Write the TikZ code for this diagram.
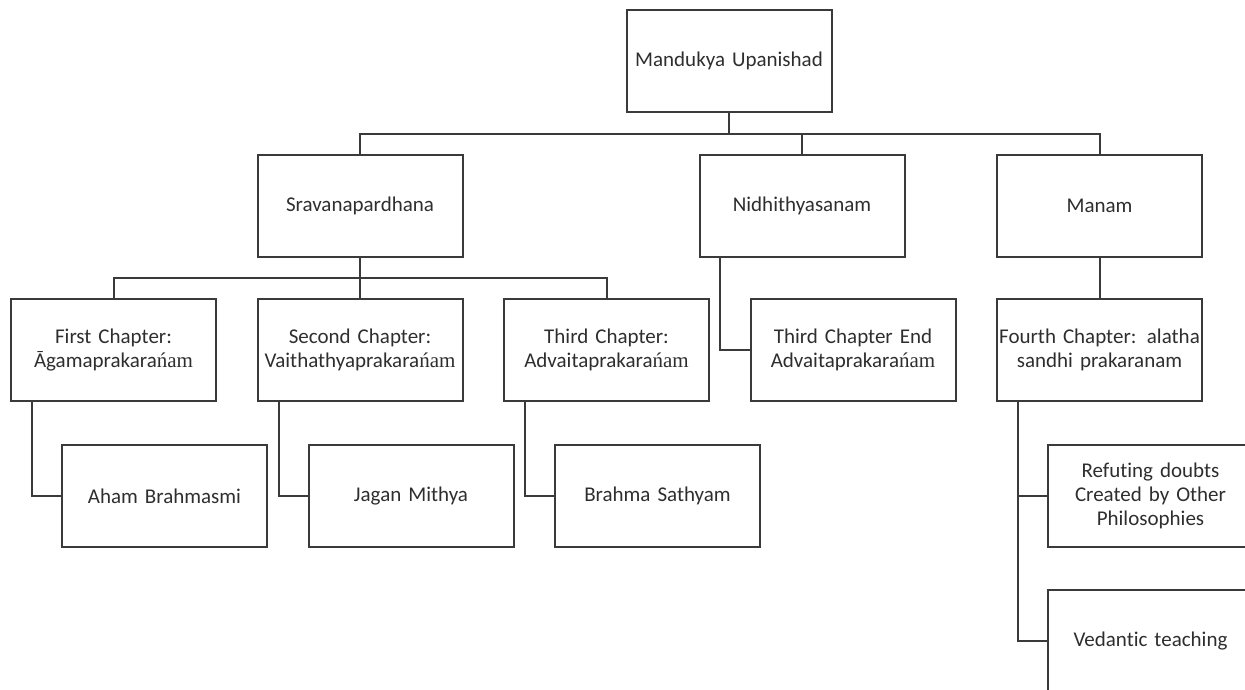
\documentclass[tikz,border=0pt]{standalone}
\usepackage{fontspec}
\setmainfont{Carlito}[Ligatures=NoCommon]
\newfontfamily\tailfont{Liberation Serif}
\usepackage{xcolor}
\usepackage{tikz}
\usetikzlibrary{positioning,calc}

\definecolor{boxline}{HTML}{3A3A3A}
\definecolor{boxtext}{HTML}{2E2E2E}

\begin{document}
\begin{tikzpicture}[node distance=41.5pt,
  box/.style={draw=boxline, line width=2pt, text=boxtext, text width=205pt,
    minimum height=102pt, inner sep=0pt, outer sep=0pt, align=center,
    font=\fontsize{21}{24}\selectfont},
  link/.style={draw=boxline, line width=2pt}]
  \useasboundingbox (0,0) rectangle (1245pt,-689pt);

  \node[box] at (113.5pt,-350pt)                  (first)
  {First Chapter:\\Āgamaprakara{\tailfont ńam}};
  \node[box, right=of first]                       (second)
  {Second Chapter:\\Vaithathyaprakara{\tailfont ńam}};
  \node[box, right=of second]                      (third)
  {Third Chapter:\\Advaitaprakara{\tailfont ńam}};
  \node[box, right=of third]                       (thirdend)
  {Third Chapter End\\Advaitaprakara{\tailfont ńam}};
  \node[box, right=of thirdend]                    (fourth)
  {Fourth Chapter: alatha\\sandhi prakaranam};

  \node[box, above=42pt of second]                 (sravana)
  {Sravanapardhana};
  \node[box, above=42pt of thirdend, xshift=-51pt] (nidhi)
  {Nidhithyasanam};
  \node[box, above=42pt of fourth]                 (manam)
  {Manam};
  \node[box, above=43pt of nidhi, xshift=-73pt]    (root)
  {Mandukya Upanishad};

  \node[box, below=44pt of first, xshift=51pt]     (aham)
  {Aham Brahmasmi};
  \node[box, below=44pt of second, xshift=51pt]    (jagan)
  {Jagan Mithya};
  \node[box, below=44pt of third, xshift=51pt]     (brahma)
  {Brahma Sathyam};
  \node[box, below=44pt of fourth, xshift=51pt]    (refute)
  {Refuting doubts\\Created by Other\\Philosophies};
  \node[box, below=43pt of refute]                 (vedantic)
  {Vedantic teaching};

  \draw[link] (root.south) |- ($(root.south)!.5!(sravana.north)$) -| (sravana.north);
  \draw[link] (root.south) |- ($(root.south)!.5!(nidhi.north)$) -| (nidhi.north);
  \draw[link] (root.south) |- ($(root.south)!.5!(manam.north)$) -| (manam.north);

  \draw[link] (sravana.south) |- ($(sravana.south)!.5!(first.north)$) -| (first.north);
  \draw[link] (sravana.south) -- (second.north);
  \draw[link] (sravana.south) |- ($(sravana.south)!.5!(third.north)$) -| (third.north);
  \draw[link] (manam.south) -- (fourth.north);
  \draw[link] ([xshift=20pt]nidhi.south west) |- (thirdend.west);

  \draw[link] ([xshift=21pt]first.south west) |- (aham.west);
  \draw[link] ([xshift=21pt]second.south west) |- (jagan.west);
  \draw[link] ([xshift=21pt]third.south west) |- (brahma.west);
  \draw[link] ([xshift=21pt]fourth.south west) |- (refute.west);
  \draw[link] ([xshift=21pt]fourth.south west) |- (vedantic.west);
\end{tikzpicture}
\end{document}
